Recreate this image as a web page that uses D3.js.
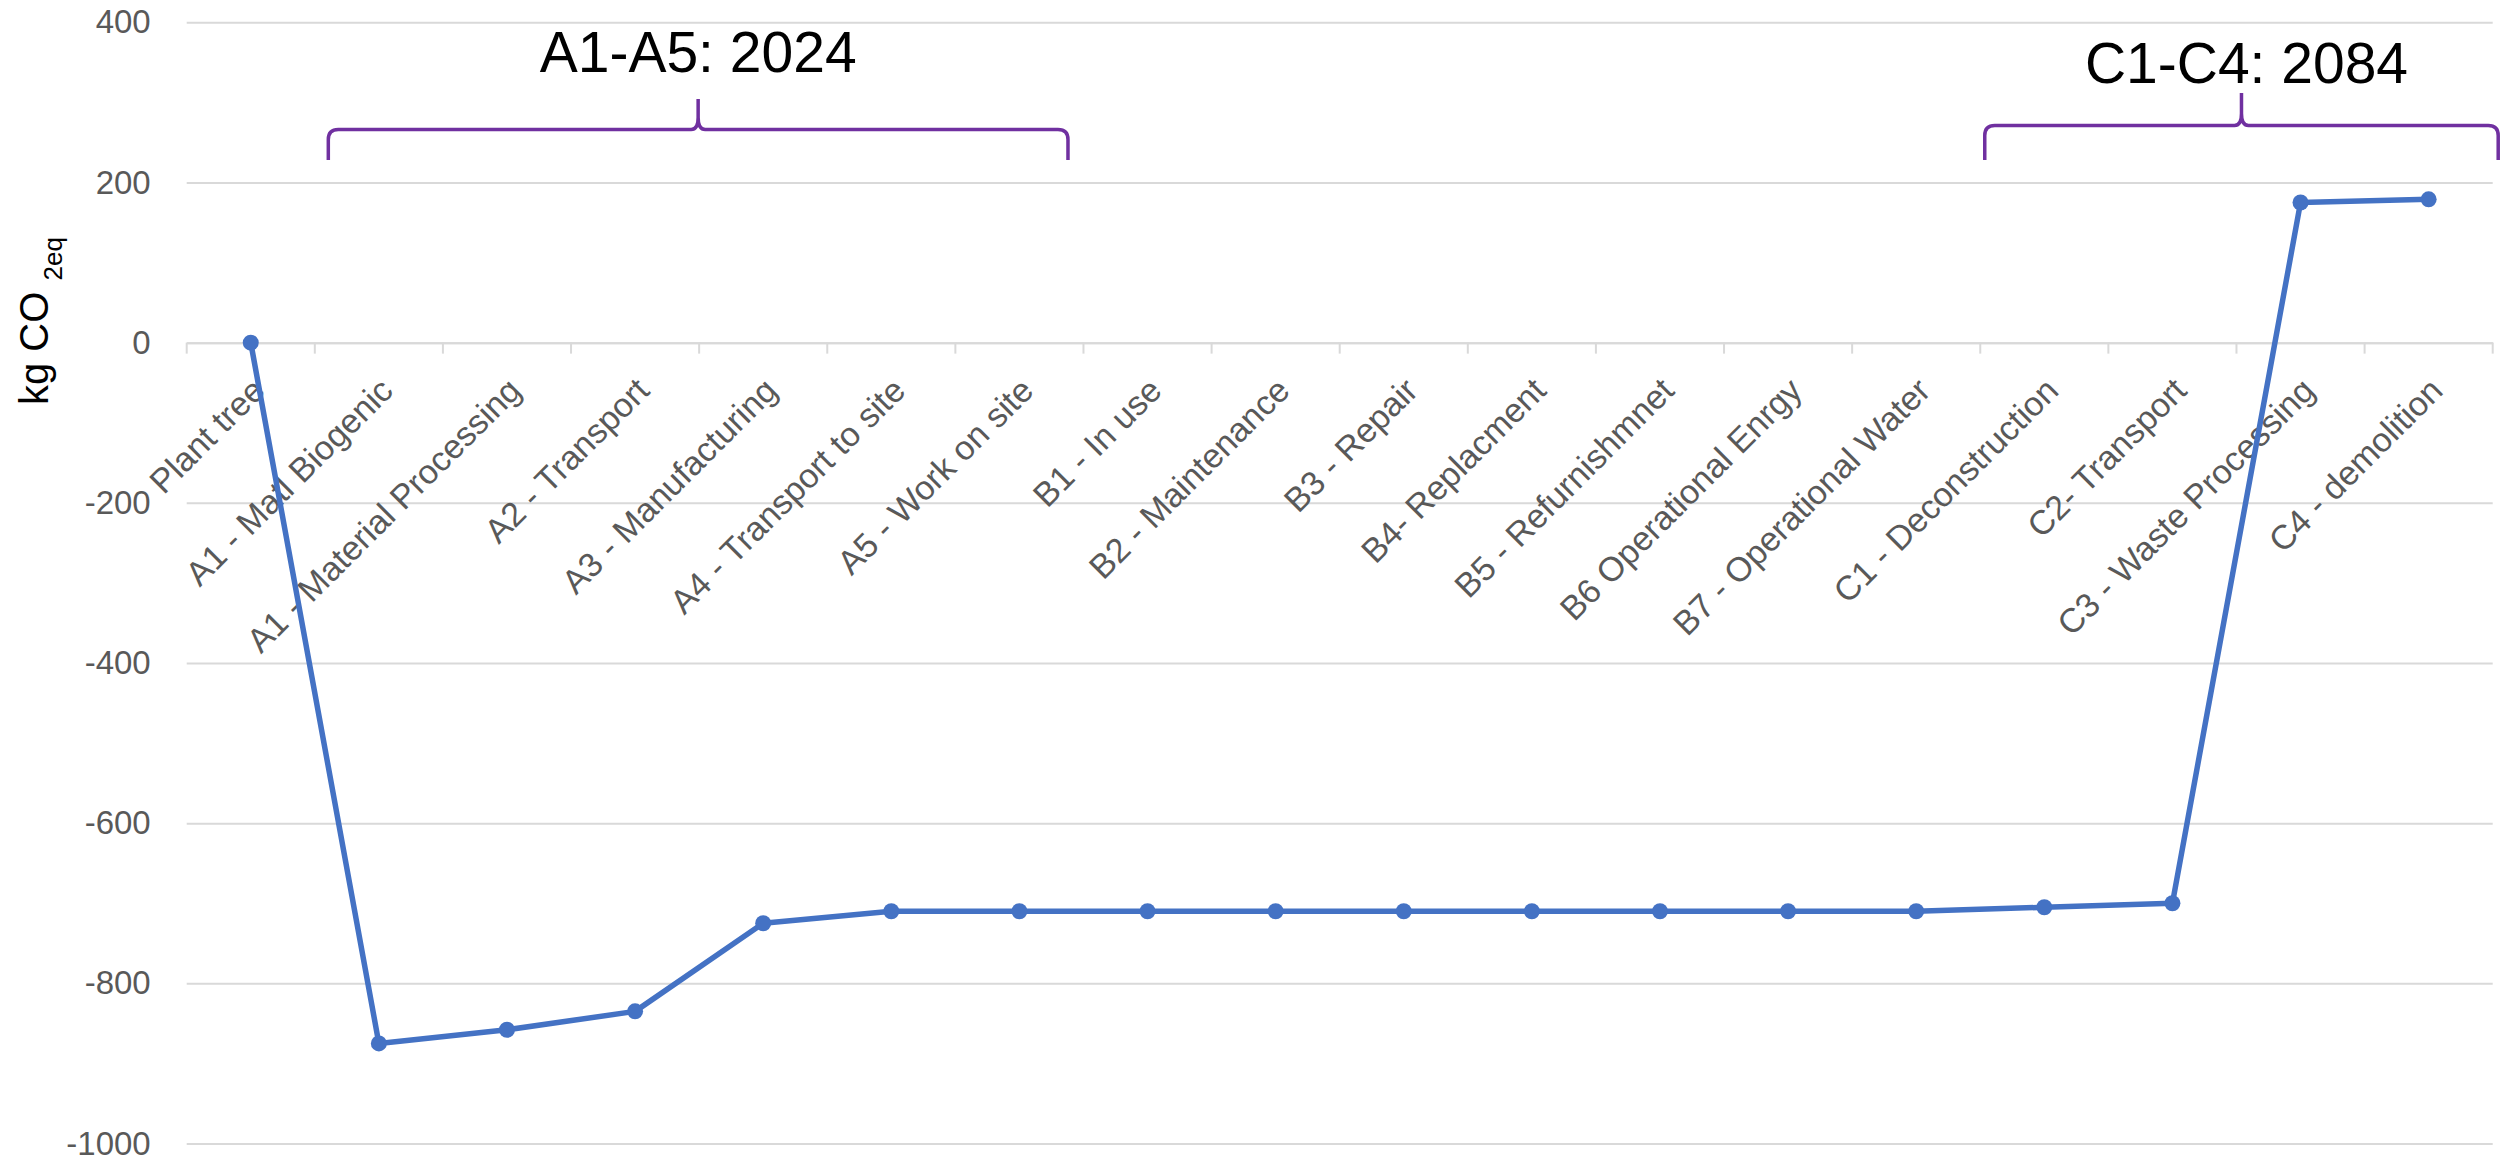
<!DOCTYPE html>
<html>
<head>
<meta charset="utf-8">
<script src="https://cdn.jsdelivr.net/npm/d3@7"></script>
<style>
  html, body { margin: 0; padding: 0; background: #ffffff; }
  svg { display: block; }
  text { font-family: "Liberation Sans", Arial, sans-serif; }
</style>
</head>
<body>
<svg id="chart" width="2503" height="1158"></svg>
<script>
// Life-cycle stages (EN 15978 modules)
const categories = [
  "Plant tree",
  "A1 - Matl Biogenic",
  "A1 - Material Processing",
  "A2 - Transport",
  "A3 - Manufacturing",
  "A4 - Transport to site",
  "A5 - Work on site",
  "B1 - In use",
  "B2 - Maintenance",
  "B3 - Repair",
  "B4- Replacment",
  "B5 - Refurnishmnet",
  "B6 Operational Enrgy",
  "B7 - Operational Water",
  "C1 - Deconstruction",
  "C2- Transport",
  "C3 - Waste Processing",
  "C4 - demolition"
];

// Cumulative emissions, kg CO2eq
const values = [
  0, -875, -858, -835, -725, -710, -710, -710, -710,
  -710, -710, -710, -710, -710, -705, -700, 175, 179
];

const yTicks = [400, 200, 0, -200, -400, -600, -800, -1000];

// Phase braces: label, first and last stage covered
const phaseLabels = ["A1-A5: 2024", "C1-C4: 2084"];
const phaseFirst  = ["A1 - Matl Biogenic", "C1 - Deconstruction"];
const phaseLast   = ["A5 - Work on site", "C4 - demolition"];

const svg = d3.select("#chart");
const W = 2503, H = 1158;
svg.append("rect").attr("width", W).attr("height", H).attr("fill", "#ffffff");

const plot = { left: 186.7, right: 2492.7, top: 22.3, bottom: 1143.5 };

const x = d3.scaleBand().domain(categories).range([plot.left, plot.right]).padding(0);
const y = d3.scaleLinear().domain([-1000, 400]).range([plot.bottom, plot.top]);
const cx = d => x(d) + x.bandwidth() / 2;

// Horizontal gridlines + value labels (plain hyphen for negatives)
const yAxis = d3.axisLeft(y)
  .tickValues(yTicks)
  .tickSize(-(plot.right - plot.left))
  .tickPadding(36)
  .tickFormat(d => String(d));

const gy = svg.append("g")
  .attr("transform", `translate(${plot.left},0)`)
  .call(yAxis);
gy.select(".domain").remove();
gy.selectAll(".tick line").attr("stroke", "#d9d9d9").attr("stroke-width", 2);
gy.selectAll(".tick text")
  .attr("fill", "#595959")
  .attr("font-size", 33)
  .attr("font-family", "Liberation Sans, Arial, sans-serif");

// Category axis on the zero line
const xAxis = d3.axisBottom(x).tickSize(0).tickFormat("");
const gx = svg.append("g")
  .attr("transform", `translate(0,${y(0)})`)
  .call(xAxis);
gx.select(".domain").attr("stroke", "#d9d9d9").attr("stroke-width", 2);
gx.selectAll(".tick").remove();

// Tick marks on band boundaries
const boundaries = categories.map(c => x(c)).concat([plot.right]);
svg.append("g").selectAll("line")
  .data(boundaries)
  .join("line")
  .attr("x1", d => d).attr("x2", d => d)
  .attr("y1", y(0)).attr("y2", y(0) + 11)
  .attr("stroke", "#d9d9d9").attr("stroke-width", 2);

// Rotated category labels
svg.append("g").selectAll("text")
  .data(categories)
  .join("text")
  .attr("transform", d => `translate(${cx(d) + 16},${y(0) + 50}) rotate(-45)`)
  .attr("text-anchor", "end")
  .attr("fill", "#595959")
  .attr("font-size", 34)
  .text(d => d);

// Y-axis title with subscript
const yTitle = svg.append("text")
  .attr("transform", "translate(48,405) rotate(-90)")
  .attr("text-anchor", "start")
  .attr("fill", "#000000")
  .attr("font-size", 40);
yTitle.append("tspan").text("kg CO ");
yTitle.append("tspan").attr("font-size", 26).attr("dy", 14).text("2eq");

// Line series
const line = d3.line()
  .x((d, i) => cx(categories[i]))
  .y(d => y(d));

svg.append("path")
  .datum(values)
  .attr("d", line)
  .attr("fill", "none")
  .attr("stroke", "#4472c4")
  .attr("stroke-width", 5.5)
  .attr("stroke-linejoin", "round");

svg.append("g").selectAll("circle")
  .data(values)
  .join("circle")
  .attr("cx", (d, i) => cx(categories[i]))
  .attr("cy", d => y(d))
  .attr("r", 8)
  .attr("fill", "#4472c4");

// Curly braces marking life-cycle phases
const braceGeom = [
  { inset0: 13.5, inset1: -15.5, yEnd: 160, yBar: 129.5, yPeak: 99, yText: 72 },
  { inset0: 4.5,  inset1: 5.5,   yEnd: 160, yBar: 125.5, yPeak: 93, yText: 83 }
];

phaseLabels.forEach((label, k) => {
  const g = braceGeom[k];
  const x1 = x(phaseFirst[k]) + g.inset0;
  const x2 = x(phaseLast[k]) + x.bandwidth() + g.inset1;
  const xm = (x1 + x2) / 2;
  const r = 10, c = 7;
  const p = d3.path();
  p.moveTo(x1, g.yEnd);
  p.lineTo(x1, g.yBar + r);
  p.quadraticCurveTo(x1, g.yBar, x1 + r, g.yBar);
  p.lineTo(xm - c, g.yBar);
  p.quadraticCurveTo(xm, g.yBar, xm, g.yBar - 12);
  p.lineTo(xm, g.yPeak);
  p.moveTo(xm, g.yBar - 12);
  p.quadraticCurveTo(xm, g.yBar, xm + c, g.yBar);
  p.lineTo(x2 - r, g.yBar);
  p.quadraticCurveTo(x2, g.yBar, x2, g.yBar + r);
  p.lineTo(x2, g.yEnd);

  svg.append("path")
    .attr("d", p.toString())
    .attr("fill", "none")
    .attr("stroke", "#7030a0")
    .attr("stroke-width", 3.5);

  svg.append("text")
    .attr("x", xm + (k === 1 ? 5 : 0))
    .attr("y", g.yText)
    .attr("text-anchor", "middle")
    .attr("fill", "#000000")
    .attr("font-size", 57)
    .text(label);
});
</script>
</body>
</html>
